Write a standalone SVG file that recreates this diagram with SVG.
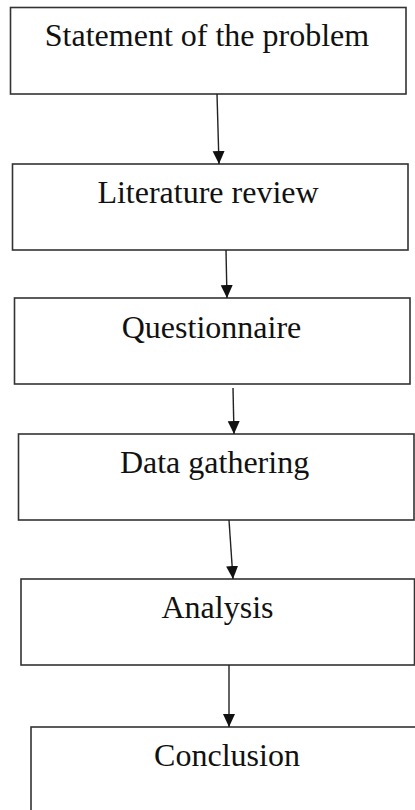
<svg xmlns="http://www.w3.org/2000/svg" width="415" height="810" viewBox="0 0 415 810">
<style>
.box{fill:#ffffff;stroke:#333333;stroke-width:1.6}
.lbl{font-family:"Liberation Serif","Times New Roman",serif;font-size:32px;fill:#111111;text-anchor:middle}
.con{stroke:#222222;stroke-width:1.4;fill:none}
</style>
<defs>
<marker id="ah" markerUnits="userSpaceOnUse" markerWidth="14" markerHeight="14" viewBox="0 0 14 14" refX="13" refY="7" orient="auto">
<path d="M0,1 L13,7 L0,13 Z" fill="#111111"/>
</marker>
</defs>
<rect width="415" height="810" fill="#ffffff"/>
<g id="n1"><rect class="box" x="10.5" y="7.5" width="395.5" height="86.5"/><text class="lbl" x="207" y="46">Statement of the problem</text></g>
<g id="n2"><rect class="box" x="12.5" y="164" width="395.5" height="86"/><text class="lbl" x="208" y="203">Literature review</text></g>
<g id="n3"><rect class="box" x="14.5" y="298" width="395.5" height="86"/><text class="lbl" x="211.5" y="337.5">Questionnaire</text></g>
<g id="n4"><rect class="box" x="18.5" y="434" width="395.5" height="86"/><text class="lbl" x="214.5" y="473">Data gathering</text></g>
<g id="n5"><rect class="box" x="21" y="579" width="393.5" height="86"/><text class="lbl" x="217.5" y="618">Analysis</text></g>
<g id="n6"><rect class="box" x="31" y="727" width="400" height="100"/><text class="lbl" x="227" y="766">Conclusion</text></g>
<g id="connectors">
<line class="con" x1="217" y1="94" x2="219" y2="164" marker-end="url(#ah)"/>
<line class="con" x1="226" y1="250" x2="227" y2="298" marker-end="url(#ah)"/>
<line class="con" x1="233" y1="388" x2="234" y2="434" marker-end="url(#ah)"/>
<line class="con" x1="229" y1="520" x2="233" y2="579" marker-end="url(#ah)"/>
<line class="con" x1="229" y1="665" x2="229" y2="727" marker-end="url(#ah)"/>
</g>
</svg>
